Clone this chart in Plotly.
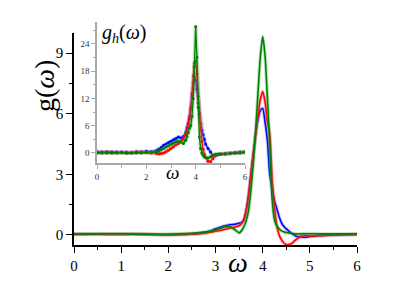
import plotly.graph_objects as go

# ---------------- main panel data ----------------
omega_main = [0, 0.5, 1.0, 1.5, 2.0, 2.5, 2.8, 3.0, 3.1, 3.2, 3.3, 3.4, 3.5, 3.55,
              3.6, 3.65, 3.7, 3.75, 3.8, 3.85, 3.9, 3.95, 4.0, 4.05, 4.1, 4.15,
              4.2, 4.25, 4.3, 4.35, 4.4, 4.45, 4.5, 4.55, 4.6, 4.7, 4.8, 4.9,
              5.0, 5.2, 5.5, 6.0]
g_blue = [0.05, 0.04, 0.05, 0.03, 0.02, 0.03, 0.12, 0.30, 0.38, 0.45, 0.50, 0.52,
          0.58, 0.62, 0.75, 1.2, 2.0, 3.0, 4.0, 5.0, 5.7, 6.15, 6.27, 5.6, 4.7,
          3.0, 2.3, 1.7, 1.3, 0.9, 0.6, 0.42, 0.30, 0.20, 0.10, -0.05, -0.10,
          -0.12, -0.08, -0.03, 0.0, 0.02]
g_red = [0.02, 0.03, 0.02, 0.05, 0.0, 0.05, 0.10, 0.18, 0.22, 0.28, 0.33, 0.38,
         0.45, 0.55, 0.75, 1.2, 1.9, 3.0, 4.0, 4.9, 5.9, 6.7, 7.1, 6.6, 5.6,
         5.0, 2.8, 1.4, 0.45, 0.0, -0.25, -0.40, -0.48, -0.48, -0.45, -0.25,
         -0.08, -0.03, -0.06, -0.04, 0.0, 0.02]
g_green = [0.05, 0.05, 0.06, 0.02, 0.03, 0.08, 0.15, 0.25, 0.32, 0.40, 0.40, 0.28,
           0.10, 0.20, 0.40, 0.7, 1.2, 2.2, 3.5, 5.1, 7.0, 8.8, 9.82, 8.9, 6.8,
           4.5, 1.8, 0.75, 0.45, 0.30, 0.20, 0.15, 0.12, 0.10, 0.08, 0.05, 0.05,
           0.06, 0.06, 0.05, 0.05, 0.05]

# ---------------- inset data ----------------
omega_in = [0, 0.2, 0.4, 0.6, 0.8, 1.0, 1.2, 1.4, 1.6, 1.8, 2.0, 2.2, 2.4,
            2.5, 2.6, 2.7, 2.8, 2.9, 3.0, 3.1, 3.2, 3.3, 3.4, 3.5, 3.6,
            3.65, 3.7, 3.75, 3.8, 3.85, 3.9, 3.95, 4.0, 4.05, 4.1, 4.15, 4.2,
            4.25, 4.3, 4.35, 4.4, 4.5, 4.6, 4.7, 4.8, 4.9, 5.0,
            5.2, 5.4, 5.6, 5.8, 6.0]
gh_blue = [0.3, 0.2, 0.3, 0.2, 0.2, 0.1, 0.2, 0.1, 0.3, 0.2, 0.4, 0.3, 0.5,
           0.8, 1.2, 1.7, 2.0, 2.3, 2.6, 2.9, 3.2, 3.5, 3.3, 3.6, 4.5,
           5.5, 6.5, 8.0, 10.0, 12.5, 15.5, 16.8, 16.0, 14.0, 11.0, 8.8, 6.5,
           5.0, 4.0, 3.0, 2.0, 1.0, 0.2, -0.5, -0.6, -0.4, -0.2,
           -0.1, 0.0, 0.1, 0.2, 0.3]
gh_red = [0.1, 0.0, 0.2, 0.0, 0.1, 0.2, 0.0, 0.1, 0.0, 0.2, 0.1, 0.0, -0.1,
          -0.2, -0.1, 0.0, 0.3, 0.6, 1.0, 1.4, 1.8, 2.1, 2.6, 3.0, 4.0,
          5.0, 6.2, 7.5, 9.5, 13.0, 17.0, 19.8, 20.3, 17.5, 12.5, 8.5, 5.0,
          2.5, 0.8, -0.3, -1.0, -1.8, -1.9, -1.2, -0.5, -0.3, -0.3,
          -0.2, -0.1, 0.0, 0.1, 0.2]
gh_green = [0.0, 0.1, 0.0, 0.1, 0.0, 0.1, 0.0, 0.0, 0.1, 0.0, 0.1, 0.1, 0.2,
            0.4, 0.7, 1.0, 1.3, 1.6, 1.9, 2.2, 2.5, 2.6, 2.4, 2.1, 2.8,
            3.5, 4.5, 5.5, 6.0, 8.0, 12.0, 19.0, 27.8, 21.0, 10.0, 3.5, 1.0,
            0.0, -0.5, -0.8, -1.0, -1.1, -0.8, -0.5, -0.3, -0.3, -0.3,
            -0.2, -0.1, 0.0, 0.0, 0.1]

main_ticks = [0, 1, 2, 3, 4, 5, 6]
main_yticks = [0, 3, 6, 9]
inset_xticks = [0, 2, 4, 6]
inset_yticks = [0, 6, 12, 18, 24]

BLUE, RED, GREEN = "#0000ff", "#ff0000", "#008000"
BANDS = {BLUE: "rgba(80,80,255,0.3)", RED: "rgba(255,90,90,0.4)",
         GREEN: "rgba(60,170,60,0.35)"}
SERIF = "Liberation Serif, Times New Roman, DejaVu Serif, serif"

fig = go.Figure()

# main curves (order: blue, red, green on top)
for ys, c in [(g_blue, BLUE), (g_red, RED), (g_green, GREEN)]:
    fig.add_trace(go.Scatter(x=omega_main, y=ys, mode="lines",
                             line=dict(color=BANDS[c], width=3.5, shape="spline", smoothing=0.6),
                             xaxis="x", yaxis="y", hoverinfo="skip"))
    fig.add_trace(go.Scatter(x=omega_main, y=ys, mode="lines",
                             line=dict(color=c, width=1.6, shape="spline", smoothing=0.6),
                             xaxis="x", yaxis="y"))

# inset curves
for ys, c in [(gh_blue, BLUE), (gh_red, RED), (gh_green, GREEN)]:
    fig.add_trace(go.Scatter(x=omega_in, y=ys, mode="lines",
                             line=dict(color=BANDS[c], width=4),
                             xaxis="x2", yaxis="y2", hoverinfo="skip"))
    fig.add_trace(go.Scatter(x=omega_in, y=ys, mode="lines+markers",
                             line=dict(color=c, width=1.3),
                             marker=dict(color=c, size=3),
                             xaxis="x2", yaxis="y2"))

L, R, T, B = 74, 58, 20, 49
W, H = 415, 294
ph = H - T - B
pw = W - L - R

def px(x):
    return (x - L) / pw

def py(y):
    return (H - B - y) / ph

fig.update_layout(
    width=W, height=H, margin=dict(l=L, r=R, t=T, b=B, autoexpand=False),
    paper_bgcolor="white", plot_bgcolor="white", showlegend=False,
    font=dict(family=SERIF, color="black"),
    xaxis=dict(domain=[0, 1], range=[0, 6], tickvals=main_ticks,
               showline=True, linecolor="black", linewidth=1.5,
               ticks="outside", ticklen=6, tickwidth=1.2, tickcolor="black",
               minor=dict(dtick=0.5, ticks="outside", ticklen=3, tickcolor="black"),
               showgrid=False, zeroline=False, tickfont=dict(size=15, family=SERIF),
               anchor="y"),
    yaxis=dict(domain=[0, py(33)], range=[-0.5, 10], tickvals=main_yticks,
               showline=True, linecolor="black", linewidth=1.5,
               ticks="outside", ticklen=6, tickwidth=1.2, tickcolor="black",
               minor=dict(dtick=1.5, tick0=0, ticks="outside", ticklen=3, tickcolor="black"),
               showgrid=False, zeroline=False, tickfont=dict(size=15, family=SERIF),
               anchor="x"),
    xaxis2=dict(domain=[px(97), px(245)], range=[0, 6], tickvals=inset_xticks,
                showline=True, linecolor="#a8a8a8", linewidth=1.5,
                ticks="outside", ticklen=4, tickcolor="#a8a8a8",
                minor=dict(dtick=1, ticks="outside", ticklen=3, tickcolor="#a8a8a8"),
                showgrid=False, zeroline=False,
                tickfont=dict(size=9, family=SERIF, color="#333"),
                anchor="y2"),
    yaxis2=dict(domain=[py(163), py(22)], range=[-2.2, 28.8], tickvals=inset_yticks,
                showline=True, linecolor="#a8a8a8", linewidth=1.5,
                ticks="outside", ticklen=4, tickcolor="#a8a8a8",
                minor=dict(dtick=3, tick0=0, ticks="outside", ticklen=2, tickcolor="#a8a8a8"),
                showgrid=False, zeroline=False,
                tickfont=dict(size=9, family=SERIF, color="#333"),
                anchor="x2"),
    annotations=[
        dict(text="g(<i>ω</i>)", x=px(44), y=py(86), xref="paper", yref="paper",
             xanchor="center", yanchor="middle",
             textangle=-90, showarrow=False, font=dict(size=28, family=SERIF)),
        dict(text="<i>ω</i>", x=px(238), y=py(262), xref="paper", yref="paper",
             xanchor="center", yanchor="middle",
             showarrow=False, font=dict(size=28, family=SERIF)),
        dict(text="<i>g<sub>h</sub></i>(<i>ω</i>)", x=px(124), y=py(34), xref="paper", yref="paper",
             xanchor="center", yanchor="middle",
             showarrow=False, font=dict(size=20, family=SERIF)),
        dict(text="<i>ω</i>", x=px(172), y=py(172), xref="paper", yref="paper",
             xanchor="center", yanchor="middle",
             showarrow=False, font=dict(size=19, family=SERIF)),
    ],
)

fig.write_html("out.html", config={"displayModeBar": False},
               post_script="document.body.style.margin='0';document.body.style.padding='0';")
